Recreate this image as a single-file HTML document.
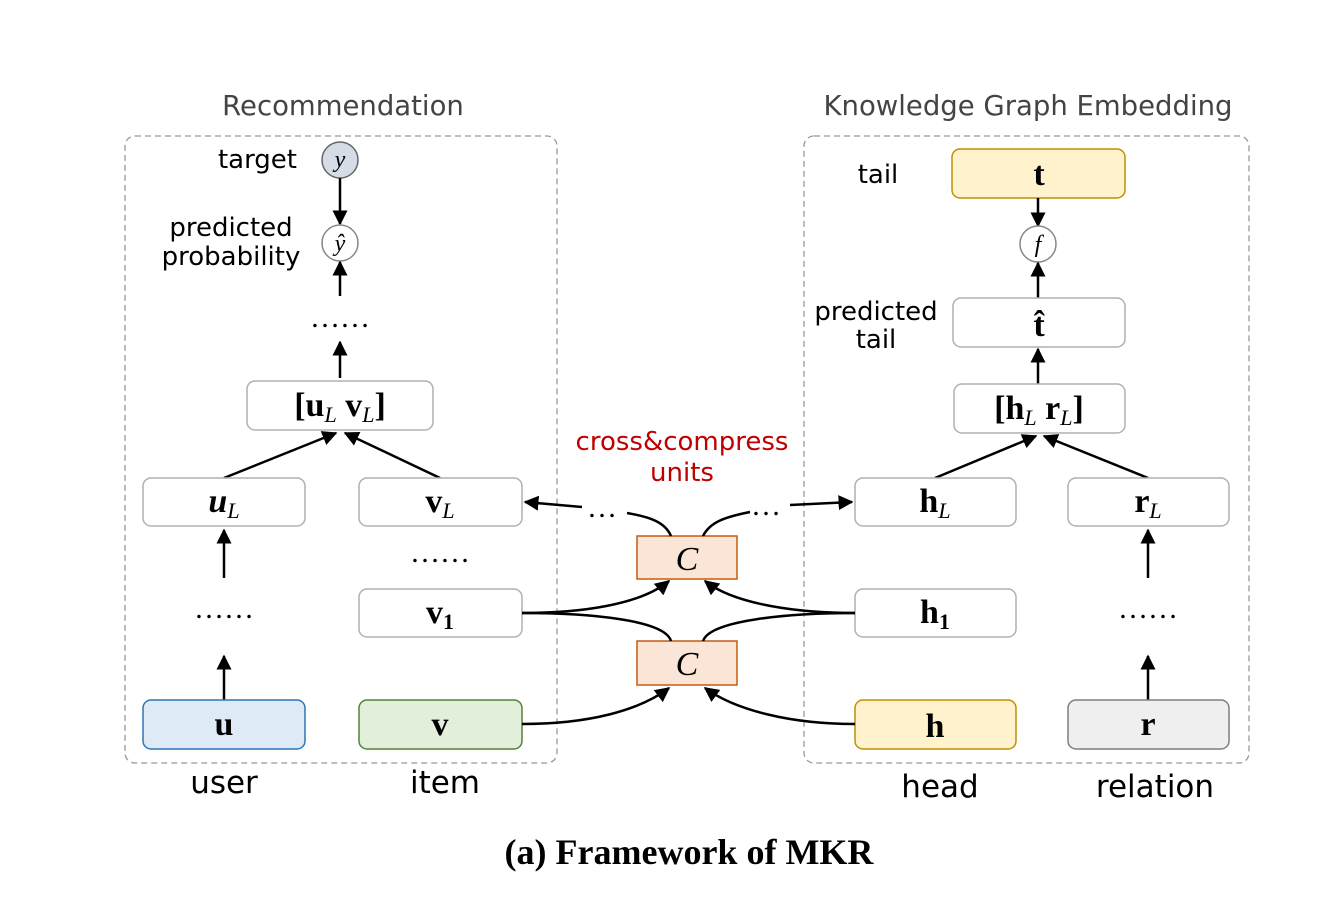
<!DOCTYPE html>
<html><head><meta charset="utf-8"><style>
html,body{margin:0;padding:0;background:#fff;}
svg{display:block;}
.s{font-family:"DejaVu Sans","Liberation Sans",sans-serif;fill:#000;}
.m{font-family:"Liberation Serif",serif;font-weight:bold;font-size:34px;text-anchor:middle;}
.it{font-style:italic;font-weight:normal;font-size:22px;}
.d{font-family:"Liberation Serif",serif;font-size:30px;text-anchor:middle;}
.box{fill:#fff;stroke:#b0b0b0;stroke-width:1.5;}
.ln{stroke:#000;stroke-width:2.5;fill:none;}
</style></head><body>
<svg width="1340" height="900" viewBox="0 0 1340 900" xmlns="http://www.w3.org/2000/svg">
<defs>
<marker id="a" viewBox="0 0 10 10" refX="9" refY="5" markerWidth="6" markerHeight="6" orient="auto-start-reverse" markerUnits="strokeWidth"><path d="M0,0L10,5L0,10z" fill="#000"/></marker>
</defs>
<text x="343" y="115" class="s" font-size="27.5" text-anchor="middle" style="fill:#444">Recommendation</text>
<text x="1028" y="115" class="s" font-size="27.5" text-anchor="middle" style="fill:#444">Knowledge Graph Embedding</text>
<rect x="125" y="136" width="432" height="627" rx="10" fill="none" stroke="#999" stroke-width="1.3" stroke-dasharray="6,4"/>
<rect x="804" y="136" width="445" height="627" rx="10" fill="none" stroke="#999" stroke-width="1.3" stroke-dasharray="6,4"/>

<circle cx="340" cy="160" r="18" fill="#d6dce5" stroke="#666" stroke-width="1.5"/>
<text x="340" y="167" class="m it" style="font-size:24px">y</text>
<text x="297" y="168" class="s" font-size="26" text-anchor="end">target</text>
<line x1="340" y1="178" x2="340" y2="224" class="ln" marker-end="url(#a)"/>
<circle cx="340" cy="243" r="18" fill="#fff" stroke="#888" stroke-width="1.5"/>
<text x="340" y="251" class="m it" style="font-size:24px">ŷ</text>
<text x="231" y="236" class="s" font-size="26" text-anchor="middle">predicted</text>
<text x="231" y="265" class="s" font-size="26" text-anchor="middle">probability</text>
<line x1="340" y1="296" x2="340" y2="262" class="ln" marker-end="url(#a)"/>
<text x="340" y="327" class="d">……</text>
<line x1="340" y1="378" x2="340" y2="342" class="ln" marker-end="url(#a)"/>
<rect x="247" y="381" width="186" height="49" rx="8" class="box"/>
<text x="340" y="416" class="m">[u<tspan class="it" dy="6">L</tspan><tspan dy="-6"> v</tspan><tspan class="it" dy="6">L</tspan><tspan dy="-6">]</tspan></text>
<line x1="224" y1="478" x2="336" y2="433" class="ln" marker-end="url(#a)"/>
<line x1="440" y1="478" x2="345" y2="433" class="ln" marker-end="url(#a)"/>
<rect x="143" y="478" width="162" height="48" rx="8" class="box"/>
<text x="224" y="512" class="m" style="font-style:italic">u<tspan class="it" dy="6">L</tspan></text>
<rect x="359" y="478" width="163" height="48" rx="8" class="box"/>
<text x="440" y="512" class="m">v<tspan class="it" dy="6">L</tspan></text>
<text x="440" y="562" class="d">……</text>
<line x1="224" y1="578" x2="224" y2="530" class="ln" marker-end="url(#a)"/>
<text x="224" y="618" class="d">……</text>
<line x1="224" y1="700" x2="224" y2="656" class="ln" marker-end="url(#a)"/>
<rect x="359" y="589" width="163" height="48" rx="8" class="box"/>
<text x="440" y="623" class="m">v<tspan style="font-size:22px" dy="6">1</tspan></text>
<rect x="143" y="700" width="162" height="49" rx="8" fill="#deebf7" stroke="#2e75b6" stroke-width="1.5"/>
<text x="224" y="735" class="m">u</text>
<rect x="359" y="700" width="163" height="49" rx="8" fill="#e2efda" stroke="#548235" stroke-width="1.5"/>
<text x="440" y="735" class="m">v</text>
<text x="224" y="793" class="s" font-size="31" text-anchor="middle">user</text>
<text x="445" y="793" class="s" font-size="31" text-anchor="middle">item</text>

<rect x="952" y="149" width="173" height="49" rx="8" fill="#fff2cc" stroke="#bf9000" stroke-width="1.5"/>
<text x="1039" y="185" class="m">t</text>
<text x="878" y="183" class="s" font-size="26" text-anchor="middle">tail</text>
<line x1="1038" y1="198" x2="1038" y2="226" class="ln" marker-end="url(#a)"/>
<circle cx="1038" cy="244" r="18" fill="#fff" stroke="#888" stroke-width="1.5"/>
<text x="1038" y="252" class="m it" style="font-size:24px">f</text>
<line x1="1038" y1="298" x2="1038" y2="263" class="ln" marker-end="url(#a)"/>
<rect x="953" y="298" width="172" height="49" rx="8" class="box"/>
<text x="1039" y="336" class="m">t̂</text>
<text x="876" y="320" class="s" font-size="26" text-anchor="middle">predicted</text>
<text x="876" y="348" class="s" font-size="26" text-anchor="middle">tail</text>
<line x1="1038" y1="384" x2="1038" y2="349" class="ln" marker-end="url(#a)"/>
<rect x="954" y="384" width="171" height="49" rx="8" class="box"/>
<text x="1039" y="419" class="m">[h<tspan class="it" dy="6">L</tspan><tspan dy="-6"> r</tspan><tspan class="it" dy="6">L</tspan><tspan dy="-6">]</tspan></text>
<line x1="935" y1="478" x2="1036" y2="436" class="ln" marker-end="url(#a)"/>
<line x1="1148" y1="478" x2="1044" y2="436" class="ln" marker-end="url(#a)"/>
<rect x="855" y="478" width="161" height="48" rx="8" class="box"/>
<text x="935" y="512" class="m">h<tspan class="it" dy="6">L</tspan></text>
<rect x="1068" y="478" width="161" height="48" rx="8" class="box"/>
<text x="1148" y="512" class="m">r<tspan class="it" dy="6">L</tspan></text>
<line x1="1148" y1="578" x2="1148" y2="530" class="ln" marker-end="url(#a)"/>
<text x="1148" y="618" class="d">……</text>
<line x1="1148" y1="700" x2="1148" y2="656" class="ln" marker-end="url(#a)"/>
<rect x="855" y="589" width="161" height="48" rx="8" class="box"/>
<text x="935" y="623" class="m">h<tspan style="font-size:22px" dy="6">1</tspan></text>
<rect x="855" y="700" width="161" height="49" rx="8" fill="#fff2cc" stroke="#bf9000" stroke-width="1.5"/>
<text x="935" y="737" class="m">h</text>
<rect x="1068" y="700" width="161" height="49" rx="8" fill="#efefef" stroke="#7f7f7f" stroke-width="1.5"/>
<text x="1148" y="735" class="m">r</text>
<text x="940" y="797" class="s" font-size="31" text-anchor="middle">head</text>
<text x="1155" y="797" class="s" font-size="31" text-anchor="middle">relation</text>

<text x="682" y="450" class="s" font-size="26" text-anchor="middle" style="fill:#c00000">cross&amp;compress</text>
<text x="682" y="481" class="s" font-size="26" text-anchor="middle" style="fill:#c00000">units</text>
<rect x="637" y="536" width="100" height="43" fill="#fbe5d6" stroke="#c55a11" stroke-width="1.5"/>
<text x="687" y="570" class="m it" style="font-size:34px">C</text>
<rect x="637" y="641" width="100" height="44" fill="#fbe5d6" stroke="#c55a11" stroke-width="1.5"/>
<text x="687" y="675" class="m it" style="font-size:34px">C</text>
<path d="M522,613 C580,613 640,605 669,581" class="ln" marker-end="url(#a)"/>
<path d="M522,613 C590,613 665,620 671,641" class="ln"/>
<path d="M855,613 C800,613 735,605 705,581" class="ln" marker-end="url(#a)"/>
<path d="M855,613 C790,613 710,620 703,641" class="ln"/>
<path d="M522,724 C590,724 640,710 669,688" class="ln" marker-end="url(#a)"/>
<path d="M855,724 C790,724 735,710 705,688" class="ln" marker-end="url(#a)"/>
<path d="M671,536 C665,522 650,517 627,513" class="ln"/>
<line x1="582" y1="507" x2="525" y2="502" class="ln" marker-end="url(#a)"/>
<text x="602" y="517" class="d">…</text>
<path d="M703,536 C710,522 725,517 750,512" class="ln"/>
<line x1="790" y1="505" x2="852" y2="502" class="ln" marker-end="url(#a)"/>
<text x="766" y="515" class="d">…</text>

<text x="689" y="864" style="font-family:'Liberation Serif',serif;font-weight:bold;font-size:36px" text-anchor="middle">(a) Framework of MKR</text>
</svg>
</body></html>
